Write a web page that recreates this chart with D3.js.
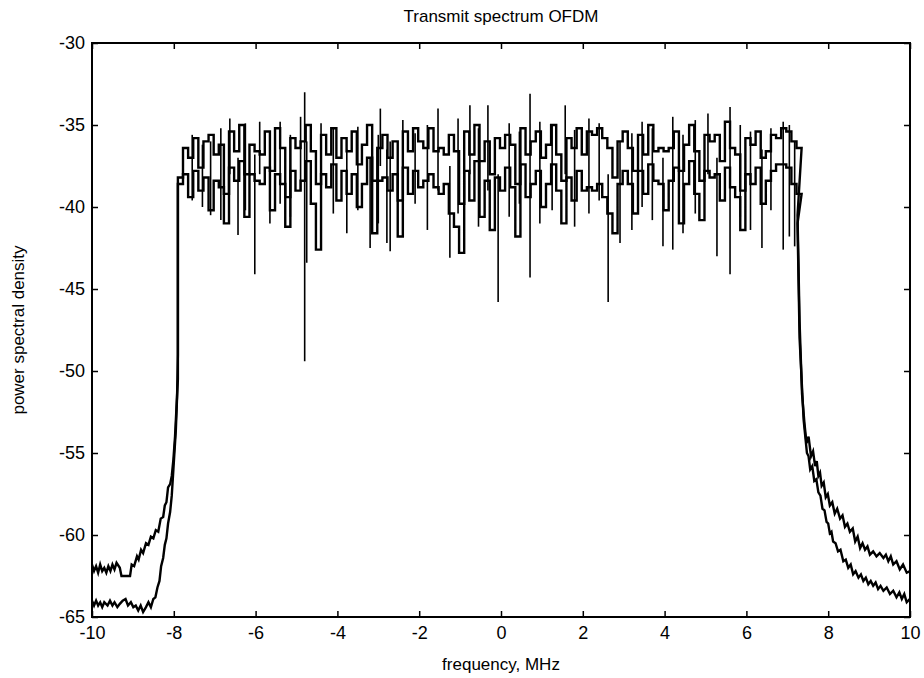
<!DOCTYPE html>
<html>
<head>
<meta charset="utf-8">
<script src="https://cdn.jsdelivr.net/npm/d3@7"></script>
<style>
  body { margin: 0; background: #fff; }
  text { font-family: "Liberation Sans", Arial, sans-serif; fill: #000; }
</style>
</head>
<body>
<svg id="chart" width="924" height="678"></svg>
<script>
// axis ticks
var xTicks = [-10, -8, -6, -4, -2, 0, 2, 4, 6, 8, 10];
var yTicks = [-30, -35, -40, -45, -50, -55, -60, -65];

// in-band PSD, one value per 0.125 MHz bin starting at -7.9 MHz
var bandStart = -7.9;
var bandStep = 0.125;
var bandUpper = [
  -38.2, -36.4, -37.0, -35.8, -37.6, -36.0, -35.6, -36.8,
  -36.2, -39.2, -35.4, -36.6, -35.0, -38.0, -36.2, -36.6,
  -36.8, -35.4, -37.8, -35.2, -36.4, -39.4, -35.8, -36.4,
  -36.0, -35.0, -36.6, -38.6, -35.6, -36.8, -35.2, -37.0,
  -35.8, -36.6, -35.4, -37.4, -36.2, -35.0, -38.4, -36.4,
  -35.6, -37.0, -36.0, -39.6, -35.4, -36.6, -35.2, -36.0,
  -36.4, -35.2, -36.6, -36.4, -36.8, -35.6, -36.6, -39.8,
  -35.4, -36.8, -35.0, -37.2, -36.0, -38.0, -35.8, -36.4,
  -35.6, -36.2, -38.6, -35.2, -36.8, -36.0, -35.4, -37.0,
  -36.2, -35.0, -36.8, -38.4, -35.8, -36.4, -35.2, -36.8,
  -35.4, -35.6, -35.2, -35.8, -36.4, -38.2, -36.0, -35.4,
  -36.4, -37.8, -35.6, -36.8, -35.0, -36.6, -36.4, -36.6,
  -36.4, -35.4, -37.8, -36.2, -35.0, -36.6, -38.4, -35.6,
  -36.0, -35.6, -37.2, -34.8, -36.4, -36.8, -39.0, -35.8,
  -36.2, -35.4, -37.0, -36.6, -35.6, -35.8, -35.2, -35.4, -36.0, -36.4
];
var bandLower = [
  -38.6, -38.0, -39.4, -37.8, -39.0, -38.2, -40.2, -38.4,
  -38.8, -41.0, -37.6, -38.4, -37.2, -40.6, -38.0, -38.4,
  -38.6, -37.6, -40.2, -38.0, -38.6, -41.2, -37.8, -39.0,
  -38.4, -37.2, -39.8, -42.6, -38.0, -38.8, -37.4, -39.6,
  -37.8, -39.2, -38.0, -40.0, -38.6, -37.0, -41.6, -38.4,
  -38.2, -39.0, -38.0, -41.8, -37.6, -39.2, -37.8, -38.8,
  -38.4, -38.0, -38.8, -39.2, -38.6, -40.4, -41.2, -42.8,
  -37.8, -39.6, -37.2, -40.6, -38.4, -41.4, -38.2, -39.0,
  -37.6, -38.8, -41.8, -37.4, -39.4, -38.6, -37.8, -40.0,
  -38.6, -37.4, -39.0, -41.0, -38.2, -39.6, -37.8, -39.0,
  -38.8, -39.0, -38.6, -39.4, -40.4, -41.6, -38.6, -37.8,
  -38.6, -40.4, -37.8, -39.2, -37.4, -38.4, -38.6, -40.2,
  -38.4, -37.6, -41.0, -38.6, -37.2, -39.2, -40.8, -37.8,
  -38.2, -38.0, -39.6, -37.6, -38.8, -39.4, -41.4, -38.0,
  -38.6, -37.6, -39.8, -38.4, -37.8, -37.4, -37.4, -37.6, -38.6, -39.2
];

// out-of-band skirts: [frequency MHz, PSD]
var leftUpper = [
  [-10.0, -61.8], [-9.95, -62.2], [-9.9, -61.9], [-9.85, -62.3], [-9.8, -61.8],
  [-9.75, -62.2], [-9.7, -62.0], [-9.65, -62.3], [-9.6, -61.9], [-9.55, -62.2],
  [-9.5, -61.8], [-9.45, -62.1], [-9.4, -61.7], [-9.32, -62.0], [-9.28, -62.5],
  [-9.07, -62.5], [-9.03, -61.8], [-8.97, -61.9], [-8.9, -61.3], [-8.86, -61.5],
  [-8.8, -60.9], [-8.75, -61.1], [-8.68, -60.5], [-8.62, -60.6], [-8.56, -60.1],
  [-8.5, -60.2], [-8.44, -59.7], [-8.38, -59.8], [-8.32, -59.0], [-8.26, -58.9],
  [-8.22, -58.2], [-8.18, -58.0], [-8.14, -57.1], [-8.09, -56.9], [-8.05, -56.4],
  [-8.01, -55.4], [-7.97, -54.0], [-7.93, -52.0], [-7.9, -50.5]
];
var leftLower = [
  [-10.0, -64.0], [-9.95, -64.3], [-9.9, -64.0], [-9.85, -64.3], [-9.8, -64.1],
  [-9.75, -64.4], [-9.7, -64.1], [-9.62, -64.3], [-9.56, -64.0], [-9.5, -64.3],
  [-9.45, -64.1], [-9.38, -64.4], [-9.32, -64.2], [-9.25, -64.0], [-9.18, -63.9],
  [-9.12, -64.3], [-9.05, -64.1], [-8.99, -64.4], [-8.93, -64.3], [-8.87, -64.6],
  [-8.81, -64.3], [-8.75, -64.7], [-8.68, -64.4], [-8.62, -64.1], [-8.56, -64.4],
  [-8.5, -63.9], [-8.45, -63.8], [-8.4, -63.2], [-8.35, -62.8], [-8.31, -61.9],
  [-8.26, -61.4], [-8.22, -60.6], [-8.18, -60.2], [-8.14, -59.3], [-8.09, -58.6],
  [-8.05, -57.6], [-8.01, -56.0], [-7.95, -53.6], [-7.92, -51.6], [-7.9, -49.0]
];
var rightUpper = [
  [7.25, -40.5], [7.3, -47.0], [7.36, -51.4], [7.42, -53.2], [7.47, -54.4],
  [7.52, -54.0], [7.58, -55.2], [7.63, -54.9], [7.68, -55.8], [7.72, -55.5],
  [7.76, -56.4], [7.8, -56.2], [7.84, -57.0], [7.89, -56.8], [7.94, -57.7],
  [7.99, -57.5], [8.04, -58.2], [8.1, -58.0], [8.16, -58.7], [8.22, -58.4],
  [8.29, -59.0], [8.35, -58.8], [8.41, -59.5], [8.47, -59.3], [8.53, -59.8],
  [8.6, -59.6], [8.66, -60.4], [8.72, -60.1], [8.78, -60.8], [8.84, -60.5],
  [8.9, -60.9], [8.96, -60.7], [9.02, -61.2], [9.1, -61.0], [9.18, -61.3],
  [9.26, -61.1], [9.35, -61.4], [9.41, -61.2], [9.47, -61.6], [9.53, -61.3],
  [9.59, -61.8], [9.67, -61.6], [9.75, -62.1], [9.83, -61.8], [9.92, -62.3],
  [10.0, -62.2]
];
var rightLower = [
  [7.25, -41.0], [7.3, -48.0], [7.4, -53.0], [7.48, -55.0], [7.52, -55.2],
  [7.56, -56.0], [7.61, -55.8], [7.66, -56.7], [7.71, -56.6], [7.76, -57.4],
  [7.81, -57.6], [7.86, -58.4], [7.91, -58.5], [7.96, -59.2], [8.0, -59.3],
  [8.04, -59.9], [8.08, -59.8], [8.12, -60.4], [8.18, -60.5], [8.24, -61.0],
  [8.3, -60.9], [8.37, -61.6], [8.43, -61.5], [8.49, -62.0], [8.55, -61.8],
  [8.61, -62.4], [8.67, -62.2], [8.74, -62.6], [8.8, -62.4], [8.86, -62.8],
  [8.92, -62.6], [8.98, -63.0], [9.04, -62.8], [9.1, -63.1], [9.16, -62.9],
  [9.22, -63.3], [9.28, -63.1], [9.35, -63.4], [9.43, -63.2], [9.51, -63.6],
  [9.59, -63.4], [9.67, -63.8], [9.74, -63.5], [9.8, -63.9], [9.86, -63.6],
  [9.92, -64.1], [10.0, -63.9]
];

// isolated nulls and peaks: [frequency MHz, low, high]
var spikes = [
  [-7.1, -40.5, -36.0], [-6.63, -38.0, -34.6], [-6.43, -41.7, -37.0],
  [-6.02, -44.1, -36.8], [-5.9, -38.0, -34.8], [-4.9, -39.0, -34.5],
  [-4.8, -49.4, -33.0], [-4.75, -43.4, -36.0], [-3.77, -41.6, -36.5],
  [-3.2, -42.5, -37.0], [-2.95, -37.5, -34.0], [-2.79, -42.2, -36.5],
  [-2.71, -42.7, -36.0], [-1.54, -39.0, -34.0], [-1.25, -43.1, -37.5],
  [-0.76, -38.0, -33.8], [-0.32, -39.0, -33.8], [-0.07, -45.8, -38.0],
  [0.71, -44.3, -33.1], [1.57, -38.0, -33.8], [2.62, -45.8, -38.0],
  [2.91, -42.2, -36.0], [3.96, -42.4, -37.0], [4.2, -42.6, -34.5],
  [5.06, -38.0, -34.3], [5.28, -43.0, -37.0], [5.6, -44.1, -33.9],
  [6.38, -42.5, -36.5], [6.9, -42.6, -34.8],
  // shorter fringe lines
  [-7.55, -39.6, -35.6], [-7.3, -40.0, -36.2], [-6.85, -40.8, -35.2],
  [-6.25, -40.2, -34.9], [-5.65, -41.0, -35.4], [-5.4, -39.8, -34.8],
  [-5.15, -40.6, -35.6], [-4.4, -41.2, -34.9], [-4.1, -40.4, -35.2],
  [-3.5, -40.2, -35.1], [-3.0, -41.0, -35.6], [-2.4, -40.6, -34.7],
  [-2.1, -39.8, -35.5], [-1.8, -41.4, -35.0], [-1.05, -40.4, -34.6],
  [-0.55, -41.2, -35.2], [0.2, -40.6, -34.9], [0.45, -39.8, -35.4],
  [0.95, -41.0, -34.8], [1.25, -40.2, -35.0], [1.8, -41.2, -35.3],
  [2.15, -40.4, -34.6], [2.4, -39.6, -34.9], [3.2, -41.4, -35.5],
  [3.45, -40.0, -34.8], [3.7, -40.8, -35.2], [4.45, -41.6, -35.6],
  [4.75, -40.4, -34.7], [5.85, -40.6, -35.0], [6.1, -41.4, -35.4],
  [6.6, -40.2, -35.2], [7.05, -41.8, -35.0], [7.18, -42.4, -36.0]
];

var width = 924, height = 678;
var margin = { top: 43, right: 14, bottom: 61, left: 92 };
var innerW = width - margin.left - margin.right;
var innerH = height - margin.top - margin.bottom;

var svg = d3.select("#chart");
var g = svg.append("g").attr("transform", `translate(${margin.left},${margin.top})`);

var x = d3.scaleLinear().domain([-10, 10]).range([0, innerW]);
var y = d3.scaleLinear().domain([-65, -30]).range([innerH, 0]);

// build a trace: left skirt, stepped band, right skirt
function buildTrace(left, band, right) {
  var pts = left.map(d => ({ f: d[0], v: d[1] }));
  band.forEach((v, i) => {
    var f0 = bandStart + i * bandStep;
    pts.push({ f: f0, v: v });
    pts.push({ f: f0 + bandStep, v: v });
  });
  right.forEach(d => pts.push({ f: d[0], v: d[1] }));
  return pts;
}

var traces = [
  buildTrace(leftUpper, bandUpper, rightUpper),
  buildTrace(leftLower, bandLower, rightLower)
];

var line = d3.line().x(d => x(d.f)).y(d => y(d.v));

g.selectAll(".spike")
  .data(spikes)
  .enter().append("line")
  .attr("class", "spike")
  .attr("x1", d => x(d[0])).attr("x2", d => x(d[0]))
  .attr("y1", d => y(d[1])).attr("y2", d => y(d[2]))
  .attr("stroke", "#000")
  .attr("stroke-width", 1.6);

g.selectAll(".trace")
  .data(traces)
  .enter().append("path")
  .attr("class", "trace")
  .attr("d", line)
  .attr("fill", "none")
  .attr("stroke", "#000")
  .attr("stroke-width", 2.4)
  .attr("stroke-linejoin", "miter");

// axes with inward ticks on all four sides (matlab style box)
var fontSize = "18px";
var fmt = d => String(d);
var axBottom = g.append("g").attr("transform", `translate(0,${innerH})`)
  .call(d3.axisBottom(x).tickValues(xTicks).tickSize(-6).tickSizeOuter(0).tickPadding(9).tickFormat(fmt));
var axTop = g.append("g")
  .call(d3.axisTop(x).tickValues(xTicks).tickSize(-6).tickSizeOuter(0).tickFormat(""));
var axLeft = g.append("g")
  .call(d3.axisLeft(y).tickValues(yTicks).tickSize(-6).tickSizeOuter(0).tickPadding(7).tickFormat(fmt));
var axRight = g.append("g").attr("transform", `translate(${innerW},0)`)
  .call(d3.axisRight(y).tickValues(yTicks).tickSize(-6).tickSizeOuter(0).tickFormat(""));

[axBottom, axTop, axLeft, axRight].forEach(a => {
  a.select(".domain").remove();
  a.selectAll("line").attr("stroke", "#000").attr("stroke-width", 1.5);
  a.selectAll("text").style("font-size", fontSize).attr("fill", "#000")
    .style("font-family", "'Liberation Sans', Arial, sans-serif");
});

g.append("rect")
  .attr("width", innerW).attr("height", innerH)
  .attr("fill", "none").attr("stroke", "#000").attr("stroke-width", 2);

svg.append("text")
  .attr("x", margin.left + innerW / 2).attr("y", 22)
  .attr("text-anchor", "middle").style("font-size", "17px")
  .text("Transmit spectrum OFDM");

svg.append("text")
  .attr("x", margin.left + innerW / 2).attr("y", 670)
  .attr("text-anchor", "middle").style("font-size", "17px")
  .text("frequency, MHz");

svg.append("text")
  .attr("transform", `translate(24,${margin.top + innerH / 2}) rotate(-90)`)
  .attr("text-anchor", "middle").style("font-size", "17px")
  .text("power spectral density");
</script>
</body>
</html>
